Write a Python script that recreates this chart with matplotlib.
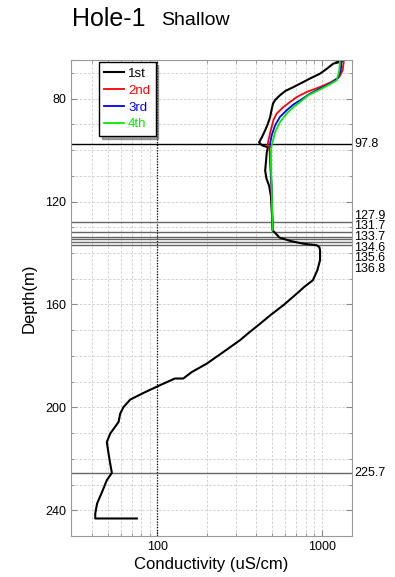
import matplotlib
matplotlib.use("Agg")
import matplotlib.pyplot as plt
import numpy as np
from matplotlib.ticker import FixedLocator, NullFormatter, LogLocator

plt.rcParams["font.family"] = ["Liberation Sans", "DejaVu Sans"]

# conductivity logs, depth (m) vs conductivity (uS/cm)
depth_1st = [65.0, 65.6, 66.4, 68.2, 70.3, 72.2, 74.2, 75.6, 77.0, 78.7, 80.5,
             82.0, 85.0, 87.3, 90.0, 92.3, 95.0, 97.0, 98.2, 98.9, 101.0,
             104.0, 108.0, 111.0, 114.0, 118.0, 125.0, 131.2, 132.2, 133.1,
             134.0, 135.3, 136.0, 136.4, 137.0, 137.8, 139.0, 142.8, 146.7,
             150.6, 153.2, 155.8, 160.3, 164.0, 167.5, 171.0, 173.9, 178.5,
             183.0, 186.3, 188.8, 188.8, 191.4, 194.4, 197.0, 199.9, 202.4,
             205.7, 210.2, 213.5, 218.0, 221.9, 225.5, 228.3, 232.9, 237.4,
             241.3, 243.2, 243.2]
cond_1st = [1180, 1320, 1170, 1080, 973, 845, 736, 667, 600, 556, 520,
            504, 492, 484, 468, 452, 432, 415, 433, 470, 462,
            458, 452, 460, 478, 490, 497, 502, 519, 536,
            551, 640, 720, 771, 929, 965, 973, 973, 937,
            880, 780, 703, 583, 490, 421, 360, 318, 252,
            200, 162, 144, 128, 104, 82.6, 68.6, 62.5, 59.7,
            58.3, 51.9, 49.5, 50.7, 51.9, 53.1, 49.5, 46.3, 43.2,
            42.1, 42.1, 75.3]

depth_2nd = [65.1, 69.0, 71.6, 73.5, 75.5, 77.4, 79.4, 81.3, 83.3, 85.8, 88.4,
             92.3, 96.2, 98.2, 99.0, 105.0, 114.0, 122.0, 131.0]
cond_2nd = [1358, 1334, 1273, 1144, 973, 808, 703, 640, 583, 531, 507,
            489, 473, 467, 480, 484, 493, 497, 502]

depth_3rd = [65.1, 69.0, 72.2, 74.2, 76.1, 78.1, 80.7, 82.3, 84.5, 87.1, 90.4,
             94.3, 97.5, 99.4, 105.0, 114.0, 122.0, 131.0]
cond_3rd = [1315, 1300, 1245, 1117, 973, 845, 736, 670, 611, 556, 519,
            495, 484, 486, 487, 494, 498, 502]

depth_4th = [65.1, 69.0, 72.9, 74.8, 76.8, 78.7, 81.3, 83.3, 85.8, 89.1, 93.0,
             96.9, 99.4, 105.0, 114.0, 122.0, 131.0]
cond_4th = [1285, 1273, 1228, 1091, 950, 826, 736, 670, 611, 556, 519,
            502, 489, 489, 495, 498, 502]

run_labels = ["1st", "2nd", "3rd", "4th"]
run_colors = ["black", "#ff0000", "#0000ff", "#00ee00"]

# marked depths (m)
marker_depths = [97.8, 127.9, 131.7, 133.7, 134.6, 135.6, 136.8, 225.7]


def spread_labels(values, gap, nudge):
    """Push crowded labels apart; shift crowded clusters up by nudge."""
    pos = list(values)
    crowded = [False] * len(pos)
    for i in range(1, len(pos)):
        if pos[i] - pos[i - 1] < gap:
            pos[i] = pos[i - 1] + gap
            crowded[i] = crowded[i - 1] = True
    return [p - nudge if c else p for p, c in zip(pos, crowded)]


fig = plt.figure(figsize=(3.95, 5.77), dpi=100)
ax = fig.add_axes([0.1797, 0.0711, 0.7114, 0.8249])

ax.set_xscale("log")
ax.set_xlim(30, 1520)
ax.set_ylim(250, 65)

ax.grid(True, which="both", color="#cccccc", linestyle=(0, (3, 2)), linewidth=0.6)
ax.set_axisbelow(True)
ax.yaxis.set_major_locator(FixedLocator([80, 120, 160, 200, 240]))
ax.yaxis.set_minor_locator(FixedLocator(np.arange(70, 250, 10)))
ax.xaxis.set_major_locator(FixedLocator([100, 1000]))
ax.xaxis.set_minor_locator(LogLocator(base=10, subs=np.arange(2, 10)))
ax.xaxis.set_minor_formatter(NullFormatter())
ax.set_xticklabels(["100", "1000"])
ax.tick_params(which="both", direction="in", top=True, right=True,
               labelsize=9, color="#888888")
ax.tick_params(which="major", length=4)
ax.tick_params(which="minor", length=2)
for sp in ax.spines.values():
    sp.set_color("#999999")
    sp.set_linewidth(0.8)

ax.axvline(100, color="black", linestyle=(0, (1, 1.2)), linewidth=0.9)

for d in marker_depths:
    ax.axhline(d, color="black" if d == 97.8 else "#666666", linewidth=1.0)
for d, yl in zip(marker_depths, spread_labels(marker_depths, 4.1, 2.3)):
    ax.text(1.007, yl, f"{d:.1f}", transform=ax.get_yaxis_transform(),
            fontsize=9, va="center", ha="left")

ax.plot(cond_1st, depth_1st, color=run_colors[0], linewidth=1.5, label=run_labels[0])
ax.plot(cond_2nd, depth_2nd, color=run_colors[1], linewidth=1.3, label=run_labels[1])
ax.plot(cond_3rd, depth_3rd, color=run_colors[2], linewidth=1.3, label=run_labels[2])
ax.plot(cond_4th, depth_4th, color=run_colors[3], linewidth=1.3, label=run_labels[3])

ax.legend(loc="upper left", bbox_to_anchor=(0.1, 0.995), borderaxespad=0,
          fontsize=9.5, labelcolor="linecolor", frameon=True, fancybox=False,
          shadow=True, edgecolor="black", framealpha=1, handlelength=1.5,
          handletextpad=0.3, labelspacing=0.35, borderpad=0.4)

ax.set_xlabel("Conductivity (uS/cm)", fontsize=12, labelpad=3)
ax.set_ylabel("Depth(m)", fontsize=12, labelpad=6)

fig.text(72 / 395, 1 - 26 / 577, "Hole-1", fontsize=18, va="baseline", ha="left")
fig.text(161 / 395, 1 - 25 / 577, "Shallow", fontsize=14, va="baseline", ha="left")

fig.savefig("out.png", dpi=100, facecolor="white")
